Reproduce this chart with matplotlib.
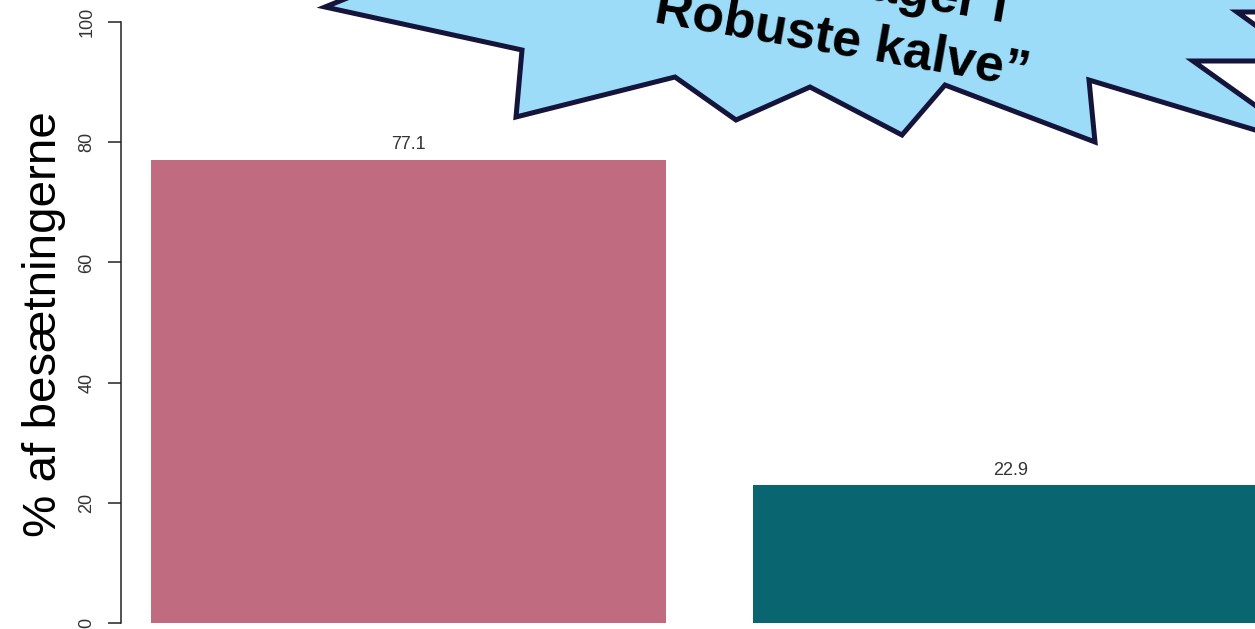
import numpy as np
import matplotlib
matplotlib.use('Agg')
import matplotlib.pyplot as plt
from matplotlib.patches import Polygon

# data
categories = ['Deltager', 'Deltager ikke']
values = [77.1, 22.9]
bar_colors = ['#C06B80', '#096570']
yticks = [0, 20, 40, 60, 80, 100]

W, H = 1255, 629
fig = plt.figure(figsize=(W / 100, H / 100), dpi=100)
fig.patch.set_facecolor('white')

# axes fill the whole figure, limits chosen so ticks land where they do in the picture
px_y = 6.01      # pixels per % unit
px_x = 602.0     # pixels per bar slot
ax = fig.add_axes([0, 0, 1, 1])
ax.set_ylim((623 - 629) / px_y, 623 / px_y)
ax.set_xlim(-408.5 / px_x, (W - 408.5) / px_x)
ax.patch.set_alpha(0)

x = np.arange(len(values))
ax.bar(x, values, width=515 / px_x, color=bar_colors, linewidth=0)

for xi, v in zip(x, values):
    ax.annotate(f'{v:.1f}', (xi, v), xytext=(0, 7.5), textcoords='offset points',
                ha='center', va='baseline', fontsize=13, color='#333333',
                family='Liberation Sans')

# R style axis
for s in ['top', 'right', 'bottom']:
    ax.spines[s].set_visible(False)
ax.spines['left'].set_position(('data', (121 - 408.5) / px_x))
ax.spines['left'].set_bounds(0, 100)
ax.spines['left'].set_linewidth(1.1)
ax.spines['left'].set_color('#222222')
ax.set_xticks([])
ax.set_yticks(yticks)
ax.set_yticklabels([str(t) for t in yticks], family='Liberation Sans')
ax.tick_params(axis='y', length=9.4, width=1.1, pad=9, labelsize=13,
               labelcolor='#333333', color='#222222', labelrotation=90)
for lab in ax.get_yticklabels():
    lab.set_va('center')

fig.text(44 / W, 1 - 324.5 / H, '% af besætningerne', rotation=90,
         ha='center', va='center', fontsize=34.2, family='Liberation Sans')

# starburst callout (pixel coords, origin top-left)
star = [(392, -20), (325, 7), (522, 50), (516, 117), (675, 77), (736, 120),
        (810, 87), (902, 135), (945, 85), (1095, 142), (1089, 80), (1315, 148),
        (1193, 61), (1305, 61), (1237, 12), (1320, 12), (1320, -20)]
star_fig = [(px / W, 1 - py / H) for px, py in star]
fig.add_artist(Polygon(star_fig, closed=True, transform=fig.transFigure,
                       facecolor='#9CDCF8', edgecolor='#15143A', linewidth=3.6,
                       joinstyle='miter', zorder=5))

angle = -9.9
fig.text(875 / W, 1 - (-0.4) / H, '\u201cDeltager i', rotation=angle,
         rotation_mode='anchor', ha='center', va='baseline', fontsize=37.5,
         fontweight='bold', family='Liberation Sans', zorder=6)
fig.text(840 / W, 1 - 54.5 / H, 'Robuste kalve\u201d', rotation=angle,
         rotation_mode='anchor', ha='center', va='baseline', fontsize=37.5,
         fontweight='bold', family='Liberation Sans', zorder=6)

fig.savefig('out.png', dpi=100)
